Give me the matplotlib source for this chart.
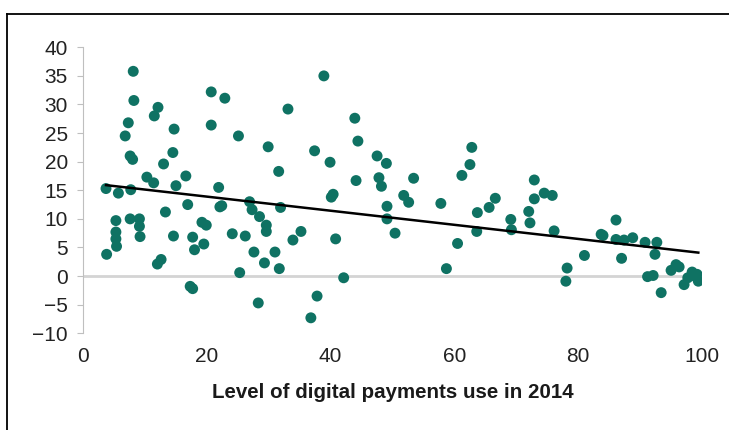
import numpy as np
import matplotlib.pyplot as plt
from matplotlib.lines import Line2D

plt.rcParams['font.family'] = ['Liberation Sans', 'DejaVu Sans']

# digital payments use in 2014 (x) vs. change (y)
x = [3.7, 3.8, 5.7, 5.3, 5.3, 5.3, 5.4, 6.8, 7.3, 7.6, 8.0, 7.7, 7.6, 8.1, 8.2,
     9.1, 9.1, 9.2, 10.3, 11.4, 11.5, 12.1, 12.0, 12.6, 13.0, 13.3, 14.5, 14.7,
     14.6, 15.0, 16.6, 16.9, 17.3, 17.7, 17.7, 18.0, 19.2, 19.9, 19.5, 20.7,
     20.7, 21.9, 22.1, 22.4, 22.9, 24.1, 25.1, 25.3, 26.2, 26.9, 27.3, 27.6,
     28.3, 28.5, 29.6, 29.6, 29.3, 29.9, 31.0, 31.6, 31.7, 31.9,
     33.9, 35.2, 33.1, 37.4, 36.8, 37.8, 38.9, 39.9, 40.1, 40.4, 40.8, 42.1,
     43.9, 44.4, 44.1, 47.5, 47.8, 48.2, 49.0, 49.1, 49.1, 50.4, 51.8, 52.6,
     53.4, 57.8, 58.7, 60.5, 61.2, 62.5, 62.8, 63.7, 63.6,
     65.6, 66.6, 69.1, 69.2, 72.0, 72.2, 72.9, 72.9, 74.5, 75.8, 76.1, 78.2,
     78.0, 81.0, 83.7, 84.0, 86.1, 86.1, 87.4, 87.0, 88.8, 90.8, 92.7, 92.4,
     91.2, 92.1, 93.4, 95.0, 95.8, 96.3, 97.1, 97.7, 98.4, 98.8, 99.2, 99.4]
y = [15.3, 3.8, 14.5, 9.7, 7.7, 6.5, 5.2, 24.5, 26.8, 21.0, 20.4, 15.1, 10.0,
     35.8, 30.7, 10.0, 8.7, 6.9, 17.3, 16.3, 28.0, 29.5, 2.1, 2.9, 19.6, 11.2,
     21.6, 25.7, 7.0, 15.8, 17.5, 12.5, -1.8, -2.2, 6.8, 4.6, 9.4, 8.9, 5.6,
     32.2, 26.4, 15.5, 12.1, 12.3, 31.1, 7.4, 24.5, 0.6, 7.0, 13.0, 11.6, 4.2,
     -4.7, 10.4, 8.9, 7.8, 2.3, 22.6, 4.2, 18.3, 1.3, 12.0,
     6.3, 7.8, 29.2, 21.9, -7.3, -3.5, 35.0, 19.9, 13.8, 14.3, 6.5, -0.3,
     27.6, 23.6, 16.7, 21.0, 17.2, 15.7, 19.7, 12.2, 10.0, 7.5, 14.1, 12.9,
     17.1, 12.7, 1.3, 5.7, 17.6, 19.5, 22.5, 11.1, 7.8,
     12.0, 13.6, 9.9, 8.1, 11.3, 9.3, 16.8, 13.5, 14.5, 14.1, 7.9, 1.4,
     -0.9, 3.6, 7.3, 7.1, 9.8, 6.4, 6.3, 3.1, 6.7, 5.9, 5.9, 3.8,
     -0.1, 0.1, -2.9, 1.0, 2.0, 1.6, -1.5, -0.3, 0.7, 0.0, 0.3, -0.9]

# linear trend line (end points as drawn)
trend_x = [3.7, 99.4]
trend_y = [15.9, 4.1]

fig = plt.figure(figsize=(7.29, 4.30), dpi=100)
ax = fig.add_axes([0.114, 0.225, 0.849, 0.665])

teal = '#0f7263'
ax.axhline(0, color='#d4d4d4', lw=2, zorder=1)
ax.scatter(x, y, s=62, color=teal, edgecolors='none', zorder=3)
ax.plot(trend_x, trend_y, color='black', lw=1.8, zorder=4)

ax.set_xlim(0, 100)
ax.set_ylim(-10, 40)
ax.set_xticks(range(0, 101, 20))
ax.set_yticks(range(-10, 41, 5))
ax.set_yticklabels(['\u221210', '\u22125'] + [str(v) for v in range(0, 41, 5)])

for s in ['top', 'right', 'bottom']:
    ax.spines[s].set_visible(False)
ax.spines['left'].set_color('#bfbfbf')
ax.tick_params(axis='y', length=4, color='#bfbfbf', labelsize=15, labelcolor='#222222', pad=7)
ax.tick_params(axis='x', length=0, labelsize=15, labelcolor='#222222', pad=10)

ax.set_xlabel('Level of digital payments use in 2014', fontsize=14.8, fontweight='bold',
              color='#1a1a1a', labelpad=12)

# frame lines at top and left of the figure
fig.add_artist(Line2D([7 / 729, 1], [1 - 14 / 430, 1 - 14 / 430], color='black', lw=1.3))
fig.add_artist(Line2D([7 / 729, 7 / 729], [0, 1 - 14 / 430], color='black', lw=1.3))

fig.savefig('out.png', dpi=100)
